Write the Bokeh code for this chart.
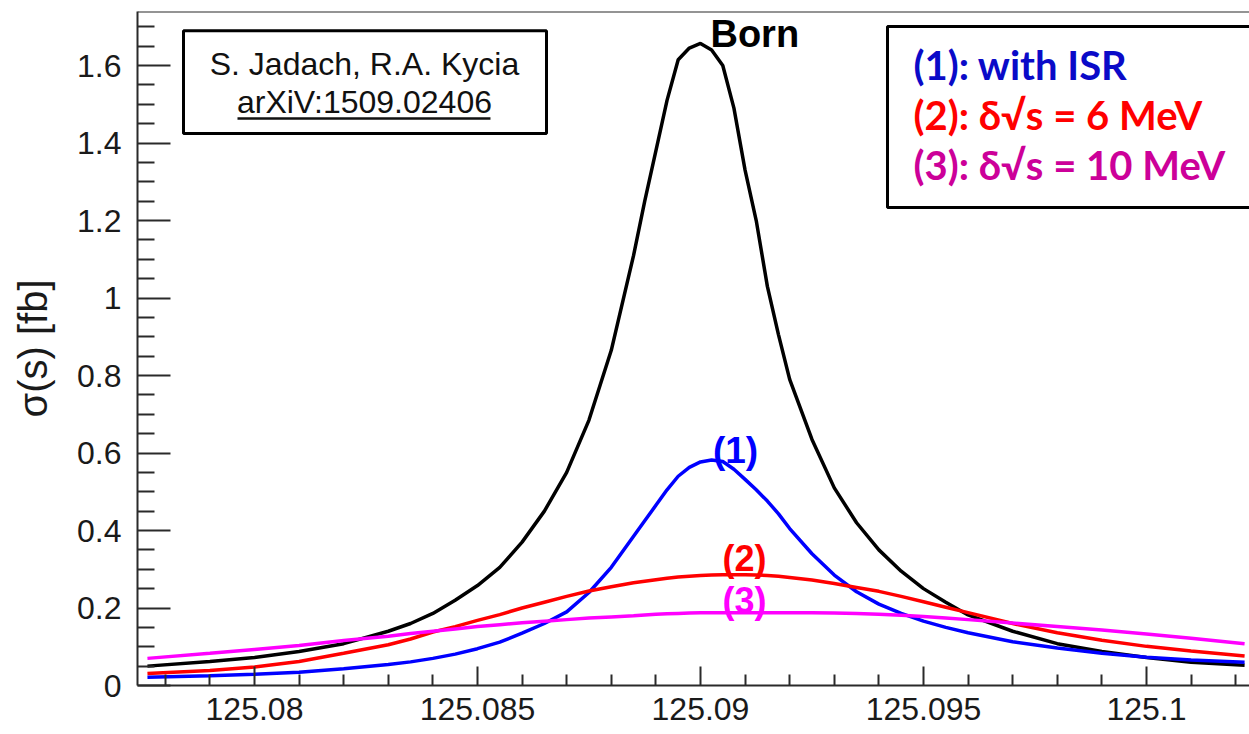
from bokeh.plotting import figure
from bokeh.models import (FixedTicker, Label, BoxAnnotation, Span, Range1d)
from bokeh.embed import file_html
from bokeh.resources import INLINE

# ---- data ----
sqrt_s = [125.0776, 125.079, 125.080, 125.081, 125.082, 125.083, 125.0835, 125.084,
          125.0845, 125.085, 125.0855, 125.086, 125.0865, 125.087, 125.0875, 125.088,
          125.0885, 125.08875, 125.089, 125.08925, 125.0895, 125.08975, 125.090,
          125.09025, 125.0905, 125.09075, 125.091, 125.09125, 125.0915, 125.09175,
          125.092, 125.0925, 125.093, 125.0935, 125.094, 125.0945, 125.095, 125.0955,
          125.096, 125.097, 125.098, 125.099, 125.100, 125.101, 125.1022]
born = [0.050, 0.062, 0.072, 0.088, 0.108, 0.140, 0.160, 0.186,
        0.220, 0.258, 0.305, 0.370, 0.450, 0.550, 0.685, 0.865,
        1.110, 1.250, 1.380, 1.510, 1.615, 1.645, 1.657,
        1.640, 1.600, 1.490, 1.330, 1.200, 1.030, 0.905,
        0.790, 0.635, 0.510, 0.420, 0.350, 0.295, 0.250, 0.215,
        0.182, 0.140, 0.108, 0.088, 0.072, 0.060, 0.052]
with_isr = [0.021, 0.025, 0.029, 0.034, 0.043, 0.054, 0.061, 0.070,
            0.081, 0.095, 0.112, 0.135, 0.160, 0.190, 0.240, 0.305,
            0.385, 0.425, 0.465, 0.505, 0.540, 0.563, 0.577,
            0.582, 0.578, 0.558, 0.532, 0.505, 0.476, 0.443,
            0.405, 0.340, 0.285, 0.242, 0.210, 0.186, 0.166, 0.150,
            0.136, 0.113, 0.097, 0.083, 0.073, 0.066, 0.060]
spread_6 = [0.031, 0.039, 0.048, 0.062, 0.083, 0.105, 0.120, 0.138,
            0.152, 0.168, 0.183, 0.200, 0.215, 0.230, 0.244, 0.255,
            0.265, 0.269, 0.273, 0.277, 0.280, 0.282, 0.284,
            0.285, 0.286, 0.286, 0.286, 0.285, 0.284, 0.282,
            0.279, 0.272, 0.263, 0.253, 0.243, 0.230, 0.216, 0.202,
            0.188, 0.160, 0.136, 0.117, 0.101, 0.089, 0.076]
spread_10 = [0.070, 0.083, 0.093, 0.103, 0.116, 0.127, 0.134, 0.140,
             0.146, 0.152, 0.157, 0.162, 0.166, 0.170, 0.174, 0.177,
             0.180, 0.182, 0.184, 0.185, 0.186, 0.187, 0.188,
             0.188, 0.188, 0.188, 0.188, 0.188, 0.188, 0.188,
             0.188, 0.188, 0.187, 0.186, 0.184, 0.181, 0.178, 0.174,
             0.170, 0.161, 0.152, 0.143, 0.133, 0.122, 0.108]

x_ticks = [125.08, 125.085, 125.09, 125.095, 125.1]
x_tick_labels = ["125.08", "125.085", "125.09", "125.095", "125.1"]
x_minor = [125.078, 125.079, 125.081, 125.082, 125.083, 125.084, 125.086, 125.087,
           125.088, 125.089, 125.091, 125.092, 125.093, 125.094, 125.096, 125.097,
           125.098, 125.099, 125.101, 125.102]
y_ticks = [0, 0.2, 0.4, 0.6, 0.8, 1.0, 1.2, 1.4, 1.6]
y_tick_labels = ["0", "0.2", "0.4", "0.6", "0.8", "1", "1.2", "1.4", "1.6"]
y_minor = [0.05, 0.1, 0.15, 0.25, 0.3, 0.35, 0.45, 0.5, 0.55, 0.65, 0.7, 0.75,
           0.85, 0.9, 0.95, 1.05, 1.1, 1.15, 1.25, 1.3, 1.35, 1.45, 1.5, 1.55,
           1.65, 1.7]

FONT = "Liberation Sans"
AXIS_COL = "#2a2a2a"
Y_TOP = 1.7394

p = figure(width=1249, height=734, output_backend="svg", toolbar_location=None,
           x_range=Range1d(125.077377, 125.10231), y_range=Range1d(0, Y_TOP),
           min_border_left=137, min_border_right=0, min_border_top=11,
           min_border_bottom=49)
p.background_fill_color = "white"
p.border_fill_color = "white"
p.outline_line_color = None
p.grid.visible = False

# curves
p.line(sqrt_s, born, line_color="black", line_width=3.5)
p.line(sqrt_s, with_isr, line_color="#0000ff", line_width=3.5)
p.line(sqrt_s, spread_6, line_color="#ff0000", line_width=3.5)
p.line(sqrt_s, spread_10, line_color="#ff00ff", line_width=3.5)

# axes
xa = p.xaxis[0]
xa.ticker = FixedTicker(ticks=x_ticks, minor_ticks=x_minor)
xa.major_label_overrides = dict(zip(x_ticks, x_tick_labels))
xa.major_tick_in = 19
xa.major_tick_out = 0
xa.minor_tick_in = 11
xa.minor_tick_out = 0
xa.major_label_standoff = 12
xa.major_label_text_font = FONT
xa.major_label_text_font_size = "32px"
xa.major_label_text_color = "#1a1a1a"

ya = p.yaxis[0]
ya.ticker = FixedTicker(ticks=y_ticks, minor_ticks=y_minor)
ya.major_label_overrides = dict(zip(y_ticks, y_tick_labels))
ya.major_tick_in = 33
ya.major_tick_out = 0
ya.minor_tick_in = 17
ya.minor_tick_out = 0
ya.major_label_standoff = 16
ya.major_label_text_font = FONT
ya.major_label_text_font_size = "32px"
ya.major_label_text_color = "#1a1a1a"
ya.axis_label = "σ(s) [fb]"
ya.axis_label_text_font = FONT
ya.axis_label_text_font_size = "40px"
ya.axis_label_text_font_style = "normal"
ya.axis_label_text_color = "#1a1a1a"
ya.axis_label_standoff = 19

for ax in (xa, ya):
    ax.axis_line_color = AXIS_COL
    ax.axis_line_width = 2
    ax.major_tick_line_color = AXIS_COL
    ax.major_tick_line_width = 2
    ax.minor_tick_line_color = AXIS_COL
    ax.minor_tick_line_width = 2

# top frame line
p.add_layout(Span(location=Y_TOP, dimension="width", line_color=AXIS_COL, line_width=2))

# author box
p.add_layout(BoxAnnotation(left=125.078408, right=125.086547, bottom=1.4245, top=1.690,
                           fill_color="white", fill_alpha=1.0,
                           line_color="black", line_alpha=1.0, line_width=3))
p.add_layout(Label(x=125.082466, y=1.604, text="S. Jadach, R.A. Kycia",
                   text_font=FONT, text_font_size="32px", text_color="#111111",
                   text_align="center", text_baseline="alphabetic"))
p.add_layout(Label(x=125.082466, y=1.506, text="arXiV:1509.02406",
                   text_font=FONT, text_font_size="32px", text_color="#111111",
                   text_align="center", text_baseline="alphabetic"))
p.add_layout(BoxAnnotation(left=125.079619, right=125.085291,
                           bottom=1.4600, top=1.4665,
                           fill_color="#111111", fill_alpha=1.0, line_color=None))

# legend box
p.add_layout(BoxAnnotation(left=125.094193, right=125.11, bottom=1.2335, top=1.7006,
                           fill_color="white", fill_alpha=1.0,
                           line_color="black", line_alpha=1.0, line_width=3))
LEG_FONT = "Lato"
p.add_layout(Label(x=125.094776, y=1.6026, text="(1): with ISR",
                   text_font=LEG_FONT, text_font_style="bold", text_font_size="40px",
                   text_color="#0a0ac8", text_baseline="alphabetic"))
p.add_layout(Label(x=125.094776, y=1.4735, text="(2): δ√s = 6 MeV",
                   text_font=LEG_FONT, text_font_style="bold", text_font_size="40px",
                   text_color="#ff0000", text_baseline="alphabetic"))
p.add_layout(Label(x=125.094776, y=1.3445, text="(3): δ√s = 10 MeV",
                   text_font=LEG_FONT, text_font_style="bold", text_font_size="40px",
                   text_color="#cc0099", text_baseline="alphabetic"))

# curve labels
p.add_layout(Label(x=125.090224, y=1.6808, text="Born", text_font=FONT,
                   text_font_style="bold", text_font_size="38px", text_color="black",
                   text_baseline="alphabetic"))
p.add_layout(Label(x=125.090785, y=0.607, text="(1)", text_font=FONT,
                   text_font_style="bold", text_font_size="37px", text_color="#0000ff",
                   text_align="center", text_baseline="alphabetic"))
p.add_layout(Label(x=125.090987, y=0.3265, text="(2)", text_font=FONT,
                   text_font_style="bold", text_font_size="36px", text_color="#ff0000",
                   text_align="center", text_baseline="alphabetic"))
p.add_layout(Label(x=125.090987, y=0.2185, text="(3)", text_font=FONT,
                   text_font_style="bold", text_font_size="36px", text_color="#ff00ff",
                   text_align="center", text_baseline="alphabetic"))

open("out.html", "w").write(file_html(p, INLINE))
